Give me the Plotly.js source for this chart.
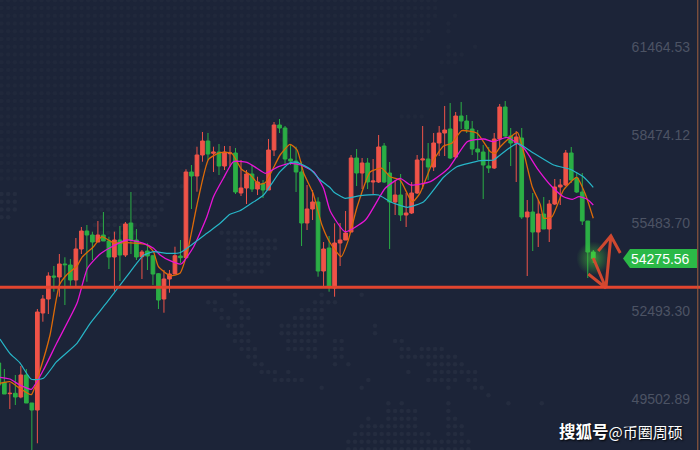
<!DOCTYPE html>
<html>
<head>
<meta charset="utf-8">
<script src="https://cdn.plot.ly/plotly-3.0.1.min.js"></script>
<style>html,body{margin:0;padding:0;background:#1c2438}#chart{width:700px;height:450px}</style>
</head>
<body>
<div id="chart"></div>
<script>
const open = [50720,50064,49676,49690,49564,50312,49360,49122,52420,52896,53678,53644,54086,54052,53542,54596,55208,55072,54834,55072,54868,54324,54902,54392,55480,54902,54334,54528,54368,53756,52896,53576,53746,54358,54300,57214,57078,57792,58268,57850,57894,57418,57836,57860,56500,56670,57146,56636,56806,56602,57962,58812,58710,57656,57588,57214,55480,55956,56194,53848,54630,53270,54800,54902,55174,57690,57180,57520,56874,56874,58098,57180,56194,56432,55752,55820,56500,57622,57656,57384,58200,58540,58676,57724,59118,58948,58676,57996,57894,57418,57350,58336,59424,58438,58200,58370,55684,55854,55174,55786,55276,56126,56704,56772,57860,57010,56534,55548,54494];
const high = [50822,50516,50030,50312,50618,50516,49360,52556,53032,53804,54018,54426,54314,54256,54970,55344,55412,55184,55548,55854,55014,55184,55378,55514,56534,55276,54562,54790,54392,53780,53882,53882,54674,54902,57306,57452,58074,58574,58540,58074,58166,58098,58098,58030,57622,57282,57452,57054,56942,58336,58914,59016,58778,58132,58074,57564,56772,56602,56354,54834,55038,55470,55480,55888,57792,57996,57690,57690,57656,58472,58200,57554,56942,57146,56500,56874,57792,58778,58200,58540,58778,59458,59560,59254,59594,59152,58948,58642,58132,58064,58540,59526,59628,58710,58608,58710,56262,56500,56262,56364,56262,56976,56976,57962,58064,57180,57180,55548,54562];
const low = [49734,49666,49156,49292,49520,49360,47694,47990,52124,52386,53144,52974,52692,53348,53314,54426,53484,54222,54834,54868,53916,53144,53508,54324,54426,54222,53576,53882,53372,52556,52430,53110,53746,54120,54290,55956,56544,57564,57622,57214,57112,57282,57394,56466,56398,56126,56534,56432,56330,56602,57758,58540,57452,57452,56534,54698,55242,55582,53654,53314,53144,52974,54018,54902,55174,56738,56636,56636,56466,56840,56840,54596,55752,55548,55344,55786,56466,56636,56942,57248,57758,57758,57656,57690,58676,58540,57792,57622,56296,57180,57316,58064,58370,57418,56874,55616,53678,54528,54664,55276,54834,56092,56092,56738,56840,56500,55412,53610,54120];
const close = [49972,49666,49690,49564,50312,49360,49122,52454,52896,53678,53644,54086,54062,53542,54596,55208,55072,54834,55072,54868,54324,54902,54392,55446,54902,54324,54494,54358,53746,52862,53576,53746,54368,54300,57214,57078,57792,58268,57826,57894,57418,57894,57860,56534,56670,57146,56636,56874,56602,57962,58812,58710,57656,57588,57214,55480,55956,56194,53848,54596,53338,54800,54902,55140,57690,57180,57520,56874,56908,58064,56874,56194,56432,55752,55820,56500,57622,57656,57384,58200,58540,58642,57690,59118,58948,58676,57996,57894,57452,57350,58336,59424,58438,58200,58404,55684,55854,55174,55786,55276,56126,56704,56772,57860,56942,56534,55548,54494,54276];

const cyanX = [0.2,2,3.8,5.9,8.1,10.5,14.2,16.6,19.6,23.2,26.3,28.1,30.5,32.9,35.4,37.8,40.2,42,43.8,45.7,48.1,51.1,52.9,54.2,56.6,58.4,60.2,60.8,62.9,65.7,69,71.1,74.2,77.2,80.8,83.2,87.5,89.9,91.1,94.2,97.2,100.8,103.8,106.3,108];
const cyanY = [51536,51050,50730,50166,50200,50764,51390,52070,52770,53654,54382,54504,54450,54470,54790,55130,55470,55776,55898,56126,56432,57224,57530,57544,57306,56942,56680,56544,56320,56408,56432,56204,56014,56204,57034,57394,57598,57622,57792,58190,57850,57452,57306,57034,56694];
const magentaX = [0.2,2,3.8,5.9,8.1,10.5,14.2,16.1,18.4,20.8,23.2,26.3,28.1,29.3,31.1,33.1,35.4,37.8,39,40.8,42.6,45.1,46.9,48.4,50.8,52.9,54.8,57.2,59,60.2,62.9,66.6,70.2,72.9,74.8,78.4,81.7,85.1,88.1,89.9,92.3,95.4,97.8,100.5,102.6,104.2,105.4,106.9,108];
const magentaY = [50234,50176,49972,49826,50482,51390,52750,53940,54426,54698,54902,54790,54620,54392,54198,54086,54674,55694,56374,57000,57564,57544,57340,57170,57394,57510,57452,57224,56660,55888,55184,55582,56660,57000,56772,56884,57340,58244,58336,58244,58394,58020,57340,56714,56374,56286,56374,56286,56092];
const orangeX = [0.2,2,3.8,5.9,7.5,9.3,11,12.3,14.2,15.1,17.2,18.7,20.8,23.2,26.9,28.1,29,31.1,32.9,34.2,36,38.1,40.2,42.3,44.1,45.7,47.2,48.4,51.1,52.9,54.2,55.4,57.1,58.7,60.2,62.2,63.5,65.1,67.5,69.6,71.1,72.9,75.1,76.5,79,80.8,82.3,84.1,86.9,89.3,90.2,91.1,94.2,95.4,96.9,98.4,99,100.5,102.6,105,106.5,108];
const orangeY = [50030,50084,49860,49642,50482,51672,53372,53712,54018,54314,54674,55014,54810,54810,54732,54504,53994,53688,53770,54450,56092,57646,57870,57850,57306,57112,56806,56850,57792,58156,57962,57170,56490,55412,54800,54334,54902,56034,57224,57340,57054,56942,56194,56490,57622,58098,58190,58618,58530,57904,57850,58074,58564,57850,56714,56092,55640,55694,56602,57034,56490,55640];

const arrowX = [108,110.3,107.1,null,110.3,111.2,null,108.9,111.2,112.9];
const arrowY = [54290,53270,53746,null,53270,55038,null,54528,55038,54460];

const tickVals = [61464.53,58474.12,55483.70,52493.30,49502.89];
const tickText = ["61464.53","58474.12","55483.70","52493.30","49502.89"];
const supportLevel = 53296;
const lastPriceText = "54275.56";
const watermarkText = "<b>搜狐号</b><span style=\"font-size:15px\">@币圈周硕</span>";

// faint world-map dots of the backdrop: row, first column position, last column position
const mapRuns = [
[0.2,1,437],[8,1,437],[15.7,1,437],[15.7,456,456],[23.5,1,430],[23.5,449,449],[31.2,1,430],[31.2,449,449],[39,1,422],[46.7,1,415],[46.7,449,449],[46.7,476,476],[54.5,1,410],[54.5,449,463],[62.2,1,390],[62.2,441,456],[70,1,383],[77.7,1,375],[77.7,442,442],[85.5,1,370],[85.5,442,442],[93.2,1,378],[93.2,437,442],[101,1,340],[108.7,1,340],[116.5,1,340],[116.5,400,423],[124.2,1,340],[132,1,340],[139.7,1,340],[147.5,1,340],[155.2,1,340],[163,1,340],[170.7,1,250],[178.5,1,250],
[186.2,67,185],[194,1,20],[194,67,170],[201.7,1,20],[201.7,72,165],[209.5,1,14],[209.5,92,165],[217.2,1,8],[217.2,95,160],[225,95,160],[232.7,97,135],[232.7,220,260],[240.5,225,277],[248.2,225,277],[256,225,270],[263.7,225,270],[271.5,235,265],[279.2,228,228],
[294.7,234,235],[294.7,321,322],[294.7,362,362],[302.3,208,215],[302.3,234,241],[302.3,315,335],[310,215,222],[310,241,248],[310,301,322],[318,221,228],[318,241,248],[318,295,322],[325.7,228,241],[325.7,281,322],[325.7,375,375],[333.3,234,248],[333.3,281,322],[333.3,375,375],[341,234,248],[341,288,315],[341,335,342],[341,395,402],[349,241,255],[349,288,315],[349,335,342],[349,402,409],[349,422,442],[356.7,248,255],[356.7,308,315],[356.7,335,342],[356.7,402,455],[364.3,254,261],[364.3,335,335],[364.3,348,348],[364.3,428,462],[372,261,275],[372,288,288],[372,408,409],[372,435,475],[380,274,302],[380,368,369],[380,428,455],[380,468,475],[387.7,321,322],[387.7,362,362],[387.7,448,449],[387.7,475,482],[395.3,489,489],[403.3,388,389],[403.3,402,402],[403.3,448,449],[403.3,509,509],[403.3,542,543],[411,388,415],[411,448,449],[418.7,368,369],[418.7,388,415],[418.7,448,455],[426.3,362,415],[426.3,448,462],[434,355,429],[434,448,462],[441.7,348,469],[449.3,348,469]
];
const mapDotX = [], mapDotY = [], mapDotC = [];
mapRuns.forEach(function(r){
  for (let k = 0; k < 106; k++) {
    const cx = 1.5 + 6.67 * k;
    if (cx >= r[1] - 1.5 && cx <= r[2] + 1.5) {
      mapDotX.push(cx); mapDotY.push(r[0]);
      mapDotC.push(r[0] < 180 ? "#20283b" : "#242c3f");
    }
  }
});

const n = open.length;
const idx = open.map(function(_, i){ return i; });
const red = "#ef5348", green = "#2bae45";

function candle(from, to, upc, downc){
  return {
    type: "candlestick", xaxis: "x2", yaxis: "y2",
    x: idx.slice(from, to), open: open.slice(from, to), high: high.slice(from, to),
    low: low.slice(from, to), close: close.slice(from, to),
    increasing: {line: {color: upc, width: 1}, fillcolor: upc},
    decreasing: {line: {color: downc, width: 1}, fillcolor: downc},
    whiskerwidth: 0, hoverinfo: "skip", showlegend: false
  };
}
function maLine(x, y, color, w){
  return {type: "scatter", mode: "lines", xaxis: "x2", yaxis: "y2", x: x, y: y,
    line: {color: color, width: w, shape: "spline", smoothing: 0.5},
    hoverinfo: "skip", showlegend: false};
}

const traces = [
  {type: "scatter", mode: "markers", x: mapDotX, y: mapDotY,
   marker: {size: 4.6, color: mapDotC}, hoverinfo: "skip", showlegend: false},
  candle(0, n - 1, red, green),
  maLine(orangeX, orangeY, "#dd6a08", 1.3),
  maLine(magentaX, magentaY, "#e814d6", 1.3),
  maLine(cyanX, cyanY, "#27b6c8", 1.2),
  {type: "scatter", mode: "markers", xaxis: "x2", yaxis: "y2", x: [idx[n-1]], y: [close[n-1]],
   marker: {size: 34, color: "rgba(70,190,60,0)", gradient: {type: "radial", color: "rgba(70,200,60,0.65)"}, line: {width: 0}},
   hoverinfo: "skip", showlegend: false},
  candle(n - 1, n, "#35c945", "#35c945"),
  {type: "scatter", mode: "lines", xaxis: "x2", yaxis: "y2", x: arrowX, y: arrowY,
   line: {color: "#d94a30", width: 3}, opacity: 0.95, connectgaps: false, hoverinfo: "skip", showlegend: false}
];

const layout = {
  width: 700, height: 450,
  margin: {l: 0, r: 0, t: 0, b: 0, pad: 0},
  paper_bgcolor: "#1c2438", plot_bgcolor: "#1c2438",
  showlegend: false,
  boxgap: 0.33, boxgroupgap: 0, boxmode: "overlay",
  xaxis: {range: [0, 700], visible: false, fixedrange: true},
  yaxis: {range: [450, 0], visible: false, fixedrange: true},
  xaxis2: {overlaying: "x", range: [0.213, 127.39], visible: false, rangeslider: {visible: false}, fixedrange: true},
  yaxis2: {
    overlaying: "y", side: "right", range: [47762, 63062],
    tickmode: "array", tickvals: tickVals, ticktext: tickText,
    ticklabelposition: "inside", ticklabelstandoff: 7, ticks: "",
    tickfont: {family: "Liberation Sans, Arial, sans-serif", size: 14, color: "#4c5364"},
    showgrid: false, zeroline: false, showline: false, fixedrange: true
  },
  shapes: [
    {type: "line", xref: "paper", x0: 0, x1: 1, yref: "y2", y0: supportLevel, y1: supportLevel,
     line: {color: "#e2452f", width: 3}, layer: "above"},
    {type: "line", xref: "x", x0: 697.8, x1: 697.8, yref: "paper", y0: 0, y1: 1,
     line: {color: "#a4623f", width: 1}, layer: "above"},
    {type: "path", xref: "x", yref: "y", path: "M623,258.5 L630,249 L697,249 L697,268 L630,268 Z",
     fillcolor: "#2bb947", line: {width: 0}, layer: "above"}
  ],
  annotations: [
    {xref: "x", yref: "y", x: 660.5, y: 258.8, text: lastPriceText, showarrow: false,
     font: {family: "Liberation Sans, Arial, sans-serif", size: 14, color: "#ffffff"}},
    {xref: "x", yref: "y", x: 621, y: 431, text: watermarkText, showarrow: false,
     font: {family: "Noto Sans CJK SC, sans-serif", size: 16.5, color: "#ffffff", shadow: "1px 1px 2px #000"}}
  ]
};
Plotly.newPlot("chart", traces, layout, {staticPlot: true, displayModeBar: false});
</script>
</body>
</html>
